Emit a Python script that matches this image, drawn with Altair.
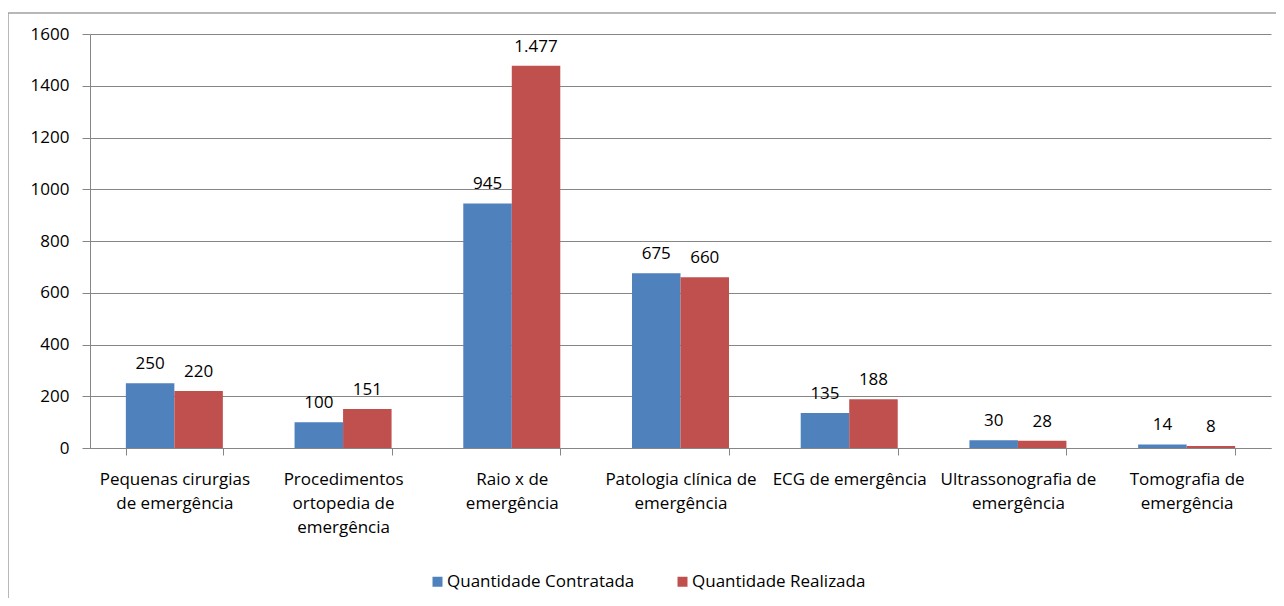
import altair as alt
import pandas as pd

categories = [
    "Pequenas cirurgias|de emergência",
    "Procedimentos|ortopedia de|emergência",
    "Raio x de|emergência",
    "Patologia clínica de|emergência",
    "ECG de emergência",
    "Ultrassonografia de|emergência",
    "Tomografia de|emergência",
]
series = ["Quantidade Contratada", "Quantidade Realizada"]
contratada = [250, 100, 945, 675, 135, 30, 14]
realizada = [220, 151, 1477, 660, 188, 28, 8]
colors = ["#4F81BD", "#C0504D"]
y_ticks = [0, 200, 400, 600, 800, 1000, 1200, 1400, 1600]

rows = []
for c, a, b in zip(categories, contratada, realizada):
    rows.append({"cat": c, "serie": series[0], "valor": a})
    rows.append({"cat": c, "serie": series[1], "valor": b})
df = pd.DataFrame(rows)

W, H = 1181, 414
FONT = "Open Sans"
FS = 17
GRAY = "#868686"

x_enc = alt.X(
    "cat:N", sort=categories, title=None,
    scale=alt.Scale(paddingInner=0.425, paddingOuter=0.2125),
    axis=alt.Axis(
        labelExpr="split(datum.label, '|')", labelAngle=0, labelBaseline="top",
        labelLineHeight=24, labelPadding=16, tickBand="extent", tickSize=7,
        domainColor=GRAY, tickColor=GRAY, labelFontSize=FS, labelColor="#000000",
        labelFont=FONT, grid=False, labelLimit=220,
    ),
)
xo_enc = alt.XOffset("serie:N", sort=series,
                     scale=alt.Scale(paddingInner=0, paddingOuter=0))
y_enc = alt.Y(
    "valor:Q", title=None,
    scale=alt.Scale(domain=[0, 1600], nice=False),
    axis=alt.Axis(values=y_ticks, format="d", tickSize=8, labelPadding=13,
                  domainColor=GRAY, tickColor=GRAY, gridColor=GRAY,
                  labelFontSize=FS, labelFont=FONT, labelColor="#000000"),
)

base = alt.Chart(df)
bars = base.mark_bar().encode(
    x=x_enc, xOffset=xo_enc, y=y_enc,
    color=alt.Color(
        "serie:N", sort=series,
        scale=alt.Scale(domain=series, range=colors),
        legend=alt.Legend(
            title=None, orient="none", direction="horizontal",
            legendX=339, legendY=539, symbolType="square", symbolSize=100,
            symbolStrokeWidth=0, labelFontSize=FS, labelFont=FONT,
            labelColor="#000000", columnPadding=39, labelOffset=1, padding=0,
            labelLimit=300,
        ),
    ),
)
texts = base.mark_text(
    baseline="alphabetic", dy=-14, fontSize=FS, font=FONT, color="#000000"
).encode(
    x=x_enc, xOffset=xo_enc, y=y_enc,
    text=alt.Text("lbl:N"),
).transform_calculate(lbl="replace(format(datum.valor, ','), ',', '.')")

frame = alt.Chart(alt.Data(values=[{}]))
left_line = frame.mark_rule(color="#A0A0A0", strokeWidth=1.5).encode(
    x=alt.value(-82), y=alt.value(-21), y2=alt.value(H + 150))
top_line = frame.mark_rule(color="#A0A0A0", strokeWidth=1.5).encode(
    x=alt.value(-82), x2=alt.value(W + 5), y=alt.value(-21))

chart = alt.layer(bars, texts, left_line, top_line).properties(
    width=W, height=H,
    autosize=alt.AutoSizeParams(type="none"),
    padding={"left": 82, "top": 26, "right": 5, "bottom": 150},
).configure_view(stroke=None).configure_axis(
    gridWidth=1, domainWidth=1, tickWidth=1
)

chart.save("out.html", embed_options={"renderer": "svg", "actions": False})
